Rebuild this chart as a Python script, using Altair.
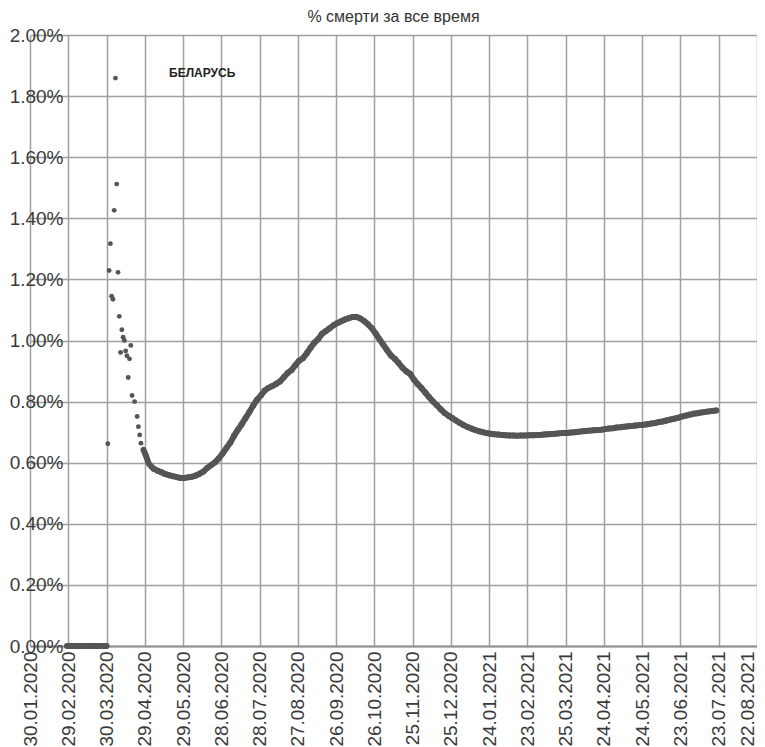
import altair as alt
import pandas as pd

title_text = "% смерти за все время"
country_label = "БЕЛАРУСЬ"
country_label_date = "2020-06-13"
country_label_value = 1.877  # percent

tick_labels = [
    "30.01.2020", "29.02.2020", "30.03.2020", "29.04.2020", "29.05.2020",
    "28.06.2020", "28.07.2020", "27.08.2020", "26.09.2020", "26.10.2020",
    "25.11.2020", "25.12.2020", "24.01.2021", "23.02.2021", "25.03.2021",
    "24.04.2021", "24.05.2021", "23.06.2021", "23.07.2021", "22.08.2021",
]
y_ticks_pct = [0.0, 0.2, 0.4, 0.6, 0.8, 1.0, 1.2, 1.4, 1.6, 1.8, 2.0]

# days with cases but no deaths yet (0 %)
zero_start = "2020-02-28"
zero_end = "2020-03-30"

# early, scattered points (percent)
early_dates = [
    "2020-03-31", "2020-04-01", "2020-04-02", "2020-04-03", "2020-04-04",
    "2020-04-05", "2020-04-06", "2020-04-07", "2020-04-08", "2020-04-09",
    "2020-04-10", "2020-04-11", "2020-04-12", "2020-04-13", "2020-04-14",
    "2020-04-15", "2020-04-16", "2020-04-17", "2020-04-18", "2020-04-19",
    "2020-04-21", "2020-04-23", "2020-04-24", "2020-04-25", "2020-04-26",
    "2020-04-28", "2020-04-30", "2020-05-02", "2020-05-04",
]
early_values = [
    0.662, 1.229, 1.317, 1.145, 1.135,
    1.426, 1.859, 1.512, 1.223, 1.079,
    0.961, 1.035, 1.011, 1.000, 0.966,
    0.950, 0.879, 0.940, 0.984, 0.820,
    0.800, 0.751, 0.718, 0.691, 0.664,
    0.642, 0.622, 0.598, 0.588,
]
# from this day on the daily points merge into a continuous thick trace
dense_from = "2020-04-28"

# dense part of the curve, one reading every 3 days starting 06.05.2020 (percent)
curve_start = "2020-05-06"
curve_step_days = 3
curve_values = [
    0.580, 0.574, 0.569, 0.563, 0.559, 0.556, 0.553, 0.550, 0.550, 0.552,
    0.554, 0.558, 0.564, 0.571, 0.583, 0.592, 0.601, 0.614, 0.630, 0.648,
    0.665, 0.688, 0.708, 0.726, 0.746, 0.766, 0.787, 0.806, 0.820, 0.836,
    0.845, 0.851, 0.858, 0.866, 0.880, 0.894, 0.903, 0.919, 0.934, 0.942,
    0.958, 0.976, 0.993, 1.005, 1.022, 1.031, 1.040, 1.050, 1.057, 1.063,
    1.069, 1.073, 1.077, 1.077, 1.072, 1.064, 1.053, 1.040, 1.023, 1.004,
    0.986, 0.968, 0.951, 0.940, 0.926, 0.911, 0.899, 0.891, 0.872, 0.857,
    0.844, 0.829, 0.814, 0.800, 0.788, 0.775, 0.763, 0.754, 0.746, 0.738,
    0.730, 0.723, 0.717, 0.712, 0.707, 0.703, 0.700, 0.697, 0.695, 0.693,
    0.692, 0.691, 0.690, 0.689, 0.689, 0.688, 0.689, 0.689, 0.690, 0.690,
    0.691, 0.691, 0.692, 0.693, 0.694, 0.695, 0.696, 0.697, 0.697, 0.699,
    0.700, 0.701, 0.703, 0.704, 0.705, 0.706, 0.707, 0.708, 0.710, 0.712,
    0.713, 0.715, 0.716, 0.718, 0.719, 0.720, 0.722, 0.723, 0.724, 0.726,
    0.728, 0.730, 0.733, 0.735, 0.738, 0.741, 0.744, 0.747, 0.751, 0.754,
    0.757, 0.760, 0.762, 0.764, 0.766, 0.768, 0.769, 0.771,
]


def ms(ts):
    return int(pd.Timestamp(ts).value // 10**6)


zero_dates = pd.date_range(zero_start, zero_end, freq="D")
curve_dates = pd.date_range(curve_start, periods=len(curve_values), freq=f"{curve_step_days}D")

rows = []
for d in zero_dates:
    rows.append({"date": ms(d), "rate": 0.0, "sz": 30, "grp": "zero"})
for d, v in zip(early_dates, early_values):
    grp = "curve" if pd.Timestamp(d) >= pd.Timestamp(dense_from) else "early"
    rows.append({"date": ms(d), "rate": v / 100, "sz": 24, "grp": grp})
for d, v in zip(curve_dates, curve_values):
    rows.append({"date": ms(d), "rate": v / 100, "sz": 36, "grp": "curve"})
df = pd.DataFrame(rows)
line_df = df[df["grp"] != "early"]

tick_ms = [ms(pd.to_datetime(t, format="%d.%m.%Y")) for t in tick_labels]
y_ticks = [round(v / 100, 4) for v in y_ticks_pct]

FONT = "Liberation Sans, Arial, sans-serif"
MARK = "#555555"

x_scale = alt.Scale(type="utc", domain=[tick_ms[0], tick_ms[-1]], nice=False)
y_scale = alt.Scale(domain=[0, 0.02], nice=False, zero=True)

x_axis = alt.Axis(
    values=tick_ms,
    labelExpr="utcFormat(datum.value, '%d.%m.%Y')",
    labelAngle=270,
    labelFont=FONT,
    labelFontSize=19,
    labelColor="#3a3a3a",
    labelPadding=5,
    labelOffset={"condition": {"test": f"datum.value >= {tick_ms[-1]}", "value": -10}, "value": 0},
    labelFlush=False,
    labelOverlap=False,
    labelBound=False,
    ticks=False,
    domain=True,
    domainColor="#8f8f8f",
    domainWidth=2,
    grid=True,
    gridColor="#a0a0a0",
    gridWidth=1.5,
    title=None,
)
y_axis = alt.Axis(
    values=y_ticks,
    format=".2%",
    offset=-37,
    labelFont=FONT,
    labelFontSize=19,
    labelColor="#3a3a3a",
    labelPadding=4,
    labelFlush=False,
    labelOverlap=False,
    ticks=False,
    domain=False,
    grid=True,
    gridColor="#a0a0a0",
    gridWidth=1.5,
    title=None,
)

trace = alt.Chart(line_df).mark_line(color=MARK, strokeWidth=6, strokeCap="round", strokeJoin="round").encode(
    x=alt.X("date:T", scale=x_scale, axis=x_axis),
    y=alt.Y("rate:Q", scale=y_scale, axis=y_axis),
    detail="grp:N",
)

points = alt.Chart(df).mark_circle(opacity=1, color=MARK).encode(
    x=alt.X("date:T", scale=x_scale, axis=x_axis),
    y=alt.Y("rate:Q", scale=y_scale, axis=y_axis),
    size=alt.Size("sz:Q", scale=None, legend=None),
)

label_df = pd.DataFrame({
    "date": [ms(country_label_date)],
    "rate": [country_label_value / 100],
    "text": [country_label],
})
label = alt.Chart(label_df).mark_text(
    font=FONT, fontSize=12, fontWeight="bold", color="#222222", align="center", baseline="middle"
).encode(
    x=alt.X("date:T", scale=x_scale, axis=x_axis),
    y=alt.Y("rate:Q", scale=y_scale, axis=y_axis),
    text="text:N",
)

chart = alt.layer(trace, points, label).properties(
    width=727,
    height=611,
    autosize=alt.AutoSizeParams(type="none"),
    padding={"left": 22, "top": 27, "right": 0, "bottom": 100},
    background="white",
    title=alt.Title(
        title_text,
        font=FONT,
        fontSize=16,
        fontWeight="normal",
        color="#333333",
        anchor="middle",
        offset=4,
        dy=3,
    ),
).configure_view(stroke=None)

chart.save("out.html", embed_options={"renderer": "svg", "actions": False})
